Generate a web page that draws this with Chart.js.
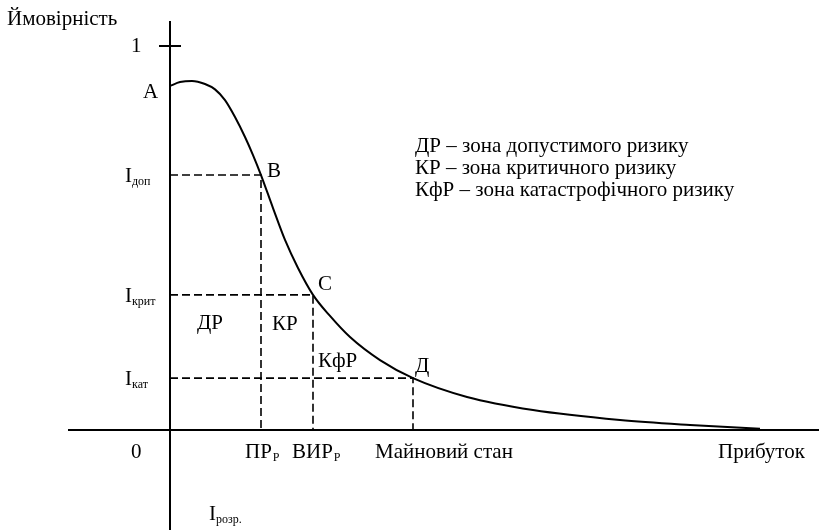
<!DOCTYPE html>
<html>
<head>
<meta charset="utf-8">
<script src="https://cdn.jsdelivr.net/npm/chart.js@4"></script>
<style>
html,body{margin:0;padding:0;background:#fff;}
canvas{display:block;}
</style>
</head>
<body>
<canvas id="c" width="819" height="530"></canvas>
<script>
// ---- data ----
const curveX = [0, 0.10, 0.22, 0.35, 0.45, 0.55, 0.65, 0.75, 0.83, 0.91, 1.03, 1.15, 1.28, 1.43, 1.60, 1.80, 2.10, 2.43, 2.97, 3.63, 4.50, 5.20, 5.90];
const curveY = [0.896, 0.906, 0.909, 0.901, 0.887, 0.859, 0.815, 0.763, 0.716, 0.664, 0.578, 0.495, 0.422, 0.352, 0.297, 0.242, 0.182, 0.135, 0.086, 0.052, 0.026, 0.013, 0.003];
const levelNames = ['доп', 'крит', 'кат'];
const levelValues = [0.664, 0.352, 0.135];
const levelX = [0.91, 1.43, 2.43];
const pointNames = ['B', 'C', 'Д'];
const zoneNames = ['ДР', 'КР', 'КфР'];
const legendLines = ['ДР – зона допустимого ризику', 'КР – зона критичного ризику', 'КфР – зона катастрофічного ризику'];
const yTickValue = 1;
const yTickLabel = '1';
const yAxisTitle = 'Ймовірність';
const xLabels = [['ПР', 'Р'], ['ВИР', 'Р']];
const xStateLabel = 'Майновий стан';
const xAxisTitle = 'Прибуток';

const curve = curveX.map((x, i) => ({x: x, y: curveY[i]}));
const black = '#000';
const datasets = [];
// axes
datasets.push({data: [{x: 0, y: -0.2604}, {x: 0, y: 1.065}], borderColor: black, borderWidth: 2});
datasets.push({data: [{x: -1.02, y: 0}, {x: 6.49, y: 0}], borderColor: black, borderWidth: 2});
datasets.push({data: [{x: -0.11, y: yTickValue}, {x: 0.11, y: yTickValue}], borderColor: black, borderWidth: 2});
// dashed guides
levelValues.forEach((v, i) => {
  datasets.push({data: [{x: 0, y: v}, {x: levelX[i], y: v}, {x: levelX[i], y: 0}], borderColor: black, borderWidth: 1.6, borderDash: [8, 4]});
});
// curve
datasets.push({data: curve, borderColor: black, borderWidth: 2, cubicInterpolationMode: 'monotone'});

const FONT = '"Liberation Serif", "Times New Roman", serif';
const textPlugin = {
  id: 'texts',
  afterDatasetsDraw(chart) {
    const ctx = chart.ctx;
    const sx = chart.scales.x, sy = chart.scales.y;
    const px = v => sx.getPixelForValue(v);
    const py = v => sy.getPixelForValue(v);
    ctx.save();
    ctx.fillStyle = black;
    ctx.textBaseline = 'alphabetic';
    ctx.textAlign = 'left';
    const big = '21px ' + FONT;
    const small = '12px ' + FONT;
    const t = (s, x, y, f) => { ctx.font = f || big; ctx.fillText(s, x, y); };
    const ox = px(0), oy = py(0);
    t(yAxisTitle, 7, 25);
    t(yTickLabel, ox - 39, py(yTickValue) + 6);
    t('A', ox - 27, py(curveY[0]) + 12);
    levelNames.forEach((n, i) => {
      const y = py(levelValues[i]);
      t('I', ox - 45, y + 7);
      t(n, ox - 38, y + 10, small);
    });
    t(pointNames[0], px(levelX[0]) + 6, py(levelValues[0]) + 2);
    t(pointNames[1], px(levelX[1]) + 5, py(levelValues[1]) - 5);
    t(pointNames[2], px(levelX[2]) + 2, py(levelValues[2]) - 6);
    // zone names
    t(zoneNames[0], ox + 27, py(levelValues[1]) + 34);
    t(zoneNames[1], px(levelX[0]) + 11, py(levelValues[1]) + 35);
    t(zoneNames[2], px(levelX[1]) + 5, py(levelValues[2]) - 11);
    // x labels
    const by = oy + 28;
    t('0', ox - 39, by);
    const offs = [-16, -21];
    xLabels.forEach((l, i) => {
      ctx.font = big;
      const w = ctx.measureText(l[0]).width;
      const x0 = px(levelX[i]) + offs[i];
      t(l[0], x0, by);
      t(l[1], x0 + w + 1, by + 3, small);
    });
    t(xStateLabel, px(levelX[2]) - 38, by);
    t(xAxisTitle, 718, by);
    // I розр.
    t('I', ox + 39, oy + 90);
    t('розр.', ox + 46, oy + 93, small);
    // legend
    legendLines.forEach((s, i) => t(s, 415, 152 + i * 22));
    ctx.restore();
  }
};

new Chart(document.getElementById('c'), {
  type: 'scatter',
  data: {datasets: datasets.map(d => Object.assign({showLine: true, pointRadius: 0, fill: false, tension: 0}, d))},
  options: {
    responsive: false,
    animation: false,
    devicePixelRatio: 1,
    layout: {padding: 0},
    plugins: {legend: {display: false}, tooltip: {enabled: false}},
    scales: {
      x: {type: 'linear', display: false, min: -1.70, max: 6.49},
      y: {type: 'linear', display: false, min: -100 / 384, max: 430 / 384}
    }
  },
  plugins: [textPlugin]
});
</script>
</body>
</html>
